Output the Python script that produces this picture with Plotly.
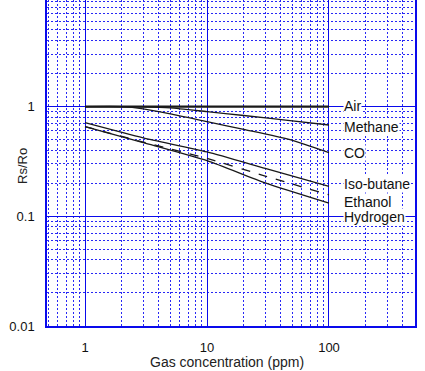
import plotly.graph_objects as go

# ---- data ----
gas_names = ["Air", "Methane", "CO", "Iso-butane", "Ethanol", "Hydrogen"]

air_x = [1, 100]
air_y = [1.0, 1.0]

methane_x = [1, 3, 5, 10, 20, 50, 100]
methane_y = [1.0, 0.995, 0.975, 0.90, 0.83, 0.74, 0.68]

co_x = [1, 2, 2.8, 5, 10, 20, 48, 100]
co_y = [1.0, 1.0, 0.965, 0.86, 0.73, 0.62, 0.50, 0.38]

isobutane_x = [1, 3, 10, 30, 100]
isobutane_y = [0.715, 0.52, 0.386, 0.273, 0.187]

ethanol_x = [1, 3, 10, 30, 100]
ethanol_y = [0.657, 0.475, 0.337, 0.233, 0.157]

hydrogen_x = [1, 3, 10, 30, 100]
hydrogen_y = [0.657, 0.47, 0.322, 0.202, 0.132]

# label positions (log10 exponents) next to the curve ends
label_x = 2.115
label_y = [0.006, -0.185, -0.422, -0.705, -0.869, -1.006]

x_title = "Gas concentration (ppm)"
y_title = "Rs/Ro"

line_color = "#1a1a1a"
grid_blue = "rgb(10,10,235)"
minor_blue = "rgb(40,40,245)"

fig = go.Figure()

series = [
    (air_x, air_y, 2.4, "solid"),
    (methane_x, methane_y, 1.3, "solid"),
    (co_x, co_y, 1.3, "solid"),
    (isobutane_x, isobutane_y, 1.3, "solid"),
    (ethanol_x, ethanol_y, 1.3, "dash"),
    (hydrogen_x, hydrogen_y, 1.3, "solid"),
]
for (xs, ys, w, d), name in zip(series, gas_names):
    fig.add_trace(go.Scatter(
        x=xs, y=ys, mode="lines", name=name,
        line=dict(color=line_color, width=w, dash=d, shape="spline", smoothing=0.6),
        showlegend=False, hoverinfo="skip",
    ))

for name, ly in zip(gas_names, label_y):
    fig.add_annotation(
        x=label_x, y=ly, xref="x", yref="y", text=name, showarrow=False,
        xanchor="left", yanchor="middle",
        font=dict(family="Liberation Sans, Arial", size=14, color="#111111"),
        bgcolor="white", borderpad=0,
    )

fig.add_annotation(
    x=-0.092, y=0.49, xref="paper", yref="paper", text=y_title, textangle=-90,
    showarrow=False, font=dict(family="Liberation Sans, Arial", size=13, color="#222222"),
)
fig.add_annotation(
    x=0.49, y=-46 / 326, xref="paper", yref="paper", text=x_title,
    showarrow=False, yanchor="bottom",
    font=dict(family="Liberation Sans, Arial", size=14, color="#222222"),
)

axis_common = dict(
    type="log", automargin=False,
    tickmode="linear", tick0=0, dtick=1,
    showgrid=True, gridcolor=grid_blue, gridwidth=1,
    showline=True, linecolor=grid_blue, linewidth=1.5, mirror=True,
    ticks="", zeroline=False,
    tickfont=dict(family="Liberation Sans, Arial", size=13, color="#111111"),
    minor=dict(dtick="D1", showgrid=True, gridcolor=minor_blue, griddash="2px,2px", gridwidth=1, ticks=""),
)

fig.update_xaxes(**axis_common, range=[-0.3115, 2.705], ticklabelstandoff=9)
fig.update_yaxes(**axis_common, range=[-2, 0.972], ticklabelstandoff=8)

fig.update_layout(
    width=425, height=371,
    margin=dict(l=47, r=10, t=0, b=45),
    paper_bgcolor="white", plot_bgcolor="white",
    font=dict(family="Liberation Sans, Arial"),
)

fig.write_html(
    "out.html",
    config={"displayModeBar": False},
    post_script="document.body.style.margin='0';document.body.style.overflow='hidden';",
)
